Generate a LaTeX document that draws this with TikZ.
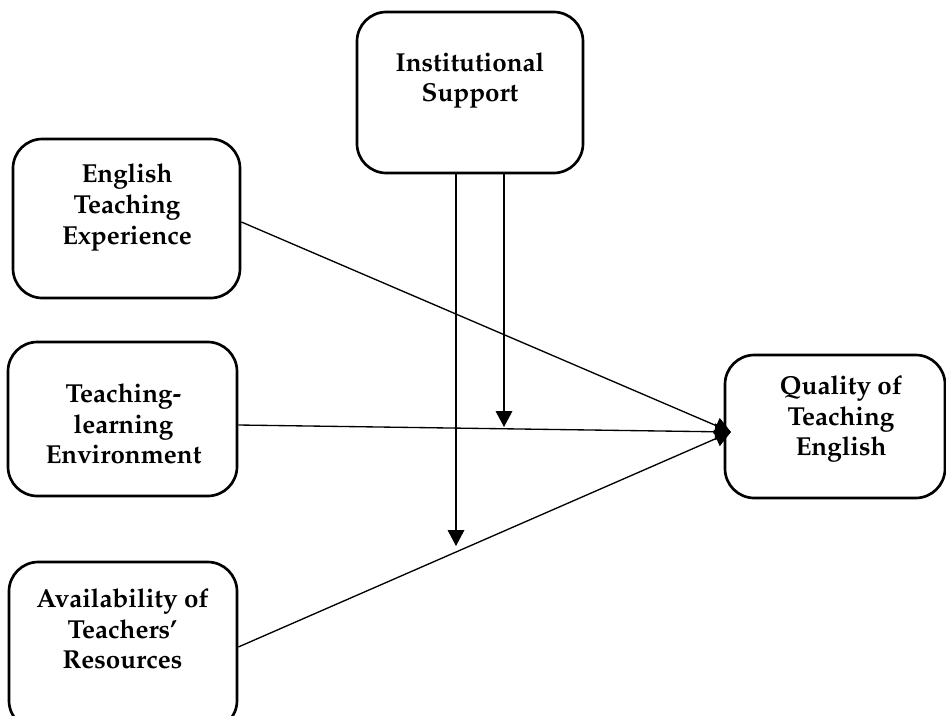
\documentclass[tikz,border=0pt]{standalone}
\usepackage[T1]{fontenc}
\usepackage{mathpazo}
\usetikzlibrary{arrows.meta}
\begin{document}
\begin{tikzpicture}[x=0.75pt,y=-0.75pt,
  box/.style={draw,line width=2pt,rounded corners=22pt,inner sep=0pt},
  lbl/.style={font=\fontsize{19.5}{23}\selectfont\bfseries,align=center,inner sep=0pt},
  conn/.style={line width=1pt,-{Triangle[width=12.5pt,length=12pt]}}]
\clip (0,0) rectangle (946,715);
% boxes
\node[box,minimum width=169.5pt,minimum height=120.75pt] (inst) at (470,92.5) {};
\node[box,minimum width=170.25pt,minimum height=119.25pt] (eng) at (126.5,218.5) {};
\node[box,minimum width=171.75pt,minimum height=115.5pt] (tle) at (122.5,419) {};
\node[box,minimum width=171pt,minimum height=126pt] (avl) at (123,646) {};
\node[box,minimum width=165pt,minimum height=107.25pt] (qual) at (835,426.5) {};
% labels
\node[lbl] (instT) at (470,80.5) {Institutional\\Support};
\node[lbl] (engT) at (127,207.5) {English\\Teaching\\Experience};
\node[lbl] (tleT) at (123.5,424) {Teaching-\\learning\\Environment};
\node[lbl] (avlT) at (122.5,629) {Availability of\\Teachers'\\Resources};
\node[lbl] (qualT) at (841,419) {Quality of\\Teaching\\English};
% connector targets
\coordinate (tip) at (731,432);
\coordinate (mA) at (456,546);
\coordinate (mB) at (504,427);
% connectors
\draw[conn] ([yshift=-2.6pt]eng.east) -- (tip);
\draw[conn] ([yshift=-4.5pt]tle.east) -- (tip);
\draw[conn] ([yshift=-0.75pt]avl.east) -- (tip);
\draw[conn] (inst.south -| mA) -- (mA);
\draw[conn] (inst.south -| mB) -- (mB);
\end{tikzpicture}
\end{document}
